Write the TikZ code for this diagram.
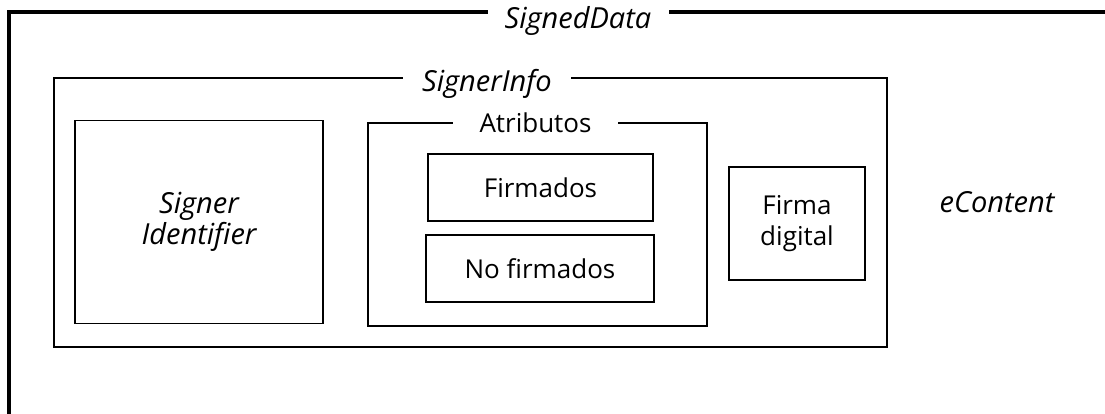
\documentclass[tikz,border=0pt]{standalone}
\usepackage{fontspec}
\setmainfont{Open Sans}
\newcommand\cursiva{\fontsize{29}{34}\selectfont\itshape}
\tikzset{
  caja/.style={draw, line width=1.7pt, inner sep=0pt, align=center},
  titulo/.style={fill=white, inner xsep=0pt, inner ysep=3pt, anchor=base},
}
\begin{document}
\begin{tikzpicture}[x=1pt, y=-1pt, font=\fontsize{26}{31}\selectfont]
  \useasboundingbox[fill=white] (0,0) rectangle (1105,413);

  % SignedData, only top and left edge inside the picture
  \coordinate (sd-ne) at (1112,12);
  \coordinate (sd-nw) at (9,12);
  \coordinate (sd-sw) at (9,420);
  \draw[line width=3.2pt] (sd-ne) -- (sd-nw) -- (sd-sw);

  \node[caja, line width=2.4pt, minimum width=833pt, minimum height=269pt] (signerinfo) at (470.5,212.5) {};

  \node[caja, minimum width=248pt, minimum height=203pt] (signerid) at (199,222) {\cursiva Signer\\\cursiva Identifier};
  \node[caja, minimum width=339pt, minimum height=203pt] (atributos) at (537.5,224.5) {};
  \node[caja, minimum width=225pt, minimum height=67pt] (firmados) at (540.5,187.5) {Firmados};
  \node[caja, minimum width=228pt, minimum height=67pt] (nofirmados) at (540,268.5) {No firmados};
  \node[caja, minimum width=136pt, minimum height=113pt] (firma) at (797,223.5) {Firma\\digital};

  % labels sitting on the frame lines
  \node[titulo, minimum width=181pt] (t-signed) at (578,28) {\cursiva SignedData};
  \node[titulo, minimum width=168pt] (t-signer) at (487,91) {\cursiva SignerInfo};
  \node[titulo, minimum width=165pt] (t-atrib) at (535.5,132) {Atributos};

  \node[anchor=base] (econtent) at (997,212) {\cursiva eContent};
\end{tikzpicture}
\end{document}
